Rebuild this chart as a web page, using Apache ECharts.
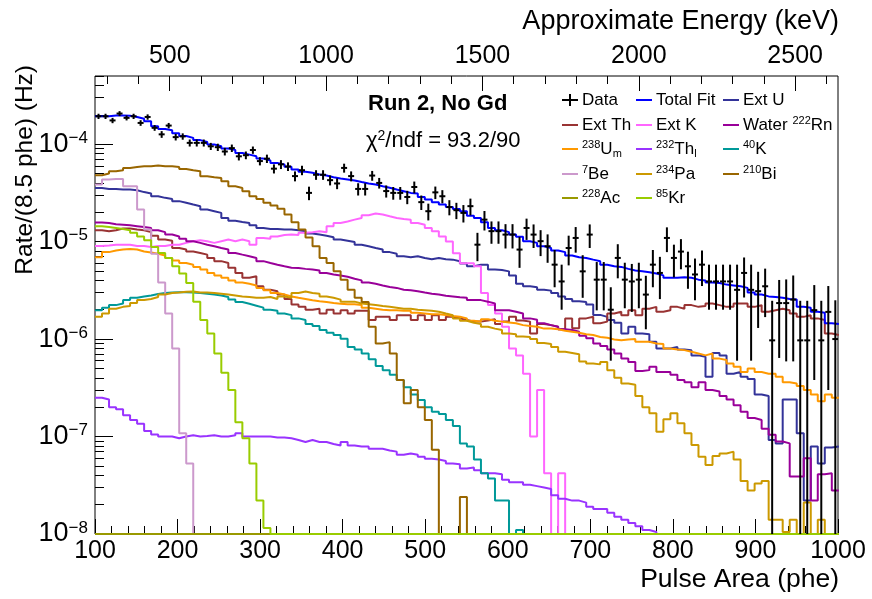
<!DOCTYPE html>
<html><head><meta charset="utf-8">
<script src="https://cdn.jsdelivr.net/npm/echarts@6/dist/echarts.min.js"></script>
<style>html,body{margin:0;padding:0;background:#fff}#c{width:872px;height:599px}</style>
</head><body><div id="c"></div>
<script>
// ---- binning / axes ----
const PHE_MIN = 100, PHE_MAX = 1000, BIN_WIDTH = 8.5, N_BINS = 106;
const Y_MIN = 1e-8, Y_MAX = 5e-4;
const E_MIN = 261, E_MAX = 2637;          // approximate energy (keV) at 100 and 1000 phe
const UNIT = 1e-6;                          // all rate arrays below are in µHz per 8.5 phe bin
const yMajorTicks = [1e-8, 1e-7, 1e-6, 1e-5, 1e-4];
const energyLabels = [500, 1000, 1500, 2000, 2500];
const energyMinorTicks = [300,400,600,700,800,900,1100,1200,1300,1400,1600,1700,1800,1900,2100,2200,2300,2400,2600];

// ---- data (µHz) ----
const dataRate = [193,193,175,206,186,193,165,190,147,126,
 155,118,120,103,103,103,95,93,84,91,
 75,77,87,67,71,56,62,59,47,54,
 31.6,48.5,48.5,42.7,39.5,57,47,34.7,34.7,47.6,
 40,33,31.6,31.6,28.7,36.3,25.4,20.5,32,29.2,
 22.6,21,19.7,23.1,9.3,16.8,12.8,12.8,11.8,11.8,
 8.28,13.8,11.8,10.1,8.96,5.8,3.9,8.6,10.9,4.95,
 11.8,4.07,4.07,2.0,6.8,4.07,3.9,4.07,2.86,5.8,
 4.77,10.9,6.8,7.9,5.58,4.6,5.8,3.9,3.9,3.9,
 3.9,3.2,4.77,3.2,3.1,3.48,0.97,2.34,2.34,2.54,
 0.97,0.97,1.98,0.97,1.9,1.0];
const dataErr = [12,12,11,12,11,12,11,12,10,10,
 10,9,9,8.5,8.5,8.5,8,8,7.5,8,
 7,7,7.5,6.5,7,6,6.5,6,5.5,6,
 5,5.5,5.5,5,5,6,5.5,5,5,5.5,
 5,4.7,4.7,4.7,4.5,5,4.3,4,4.7,4.5,
 4,4,4,4.5,3,3.8,3.3,3.3,3.3,3.3,
 2.9,3.4,3.2,3,2.9,2.4,1.9,2.9,3.2,2.3,
 3.2,2.1,2.1,1.4,2.6,2,2,2,1.6,2.4,
 2.2,3.1,2.5,2.7,2.3,2.1,2.3,1.9,1.9,1.9,
 1.9,2.6,2.1,2.6,1.8,1.8,1.5,1.7,1.75,1.95,
 1.5,1.5,1.6,1.5,1.6,1.5];
const totalFit = [193,193,197,197,196,190,182,172,153,143,
 139,129,121,116,110,105,99,95,90,87,
 81,78,75,71,68,64,62,58.5,55,52,
 50.8,48.8,47.6,45.8,44.4,43.4,42.4,40.8,39.5,38.6,
 37,35.6,34.2,32.9,31.6,31.1,28.7,27,25.4,24,
 22.7,21.6,20.5,18.4,17.5,15.8,13.8,13.1,12.5,11.8,
 11.2,10.1,9.7,8.96,8.6,8.1,7.8,7.2,6.9,6.8,
 6.53,6.3,5.8,5.58,5.5,5.25,5.05,4.95,4.85,4.7,
 4.5,4.25,4.25,4.3,4.25,4.07,4.0,3.8,3.76,3.62,
 3.55,3.48,3.35,3.0,2.86,2.74,2.7,2.65,2.58,2.54,
 2.14,2.1,1.91,1.86,1.45,1.43];
const extU = [35.5,34.7,34.7,34.2,34.2,33.7,32.2,31.2,29.2,28.1,
 27.4,26,25,24,23.1,21.3,20.5,19.7,17.5,16.4,
 15.9,15.5,14.7,13.8,13.5,13.5,13.3,13.3,13.1,12.8,
 12.1,11.8,11.5,11.1,10.5,10.2,9.9,9.3,8.96,8.6,
 8.28,7.8,7.5,7.07,6.9,7.07,6.8,6.6,6.8,6.6,
 6.53,6.3,5.95,5.58,5.8,5.8,5.16,5.1,4.95,4.5,
 3.7,3.48,3.4,3.21,3.14,2.97,2.74,2.58,2.44,2.4,
 2.26,1.77,1.69,1.57,1.47,1.14,1.34,1.14,1.12,0.94,
 0.80,0.80,0.83,0.78,0.77,0.68,0.66,0.41,0.72,0.68,
 0.44,0.46,0.41,0.39,0.27,0.26,0.092,0.085,0.24,0.24,
 0.108,0.022,0.079,0.053,0.077,0.079];
const extTh = [13.1,12.8,13.1,13.6,13.6,13.3,13.1,12.5,11.5,10.5,
 10.2,8.6,8.3,7.9,7.65,7.35,6.8,6.3,6.04,5.4,
 4.77,4.25,4.41,3.48,3.21,3.1,2.86,2.58,2.26,2.14,
 2.0,2.05,1.83,2.0,1.83,1.98,1.83,1.95,1.95,1.57,
 1.69,1.69,1.57,1.76,1.76,1.57,1.76,1.57,1.76,1.57,
 1.69,1.63,1.57,1.51,1.51,1.55,1.6,1.43,1.51,1.69,
 1.55,1.51,1.14,1.43,1.39,1.34,1.26,1.63,1.29,1.63,
 1.69,1.45,1.51,1.83,1.91,1.76,1.98,1.76,2.05,2.14,
 1.91,1.98,2.14,2.05,2.23,2.14,2.18,2.32,2.23,2.14,
 2.14,2.32,2.32,2.14,2.23,1.91,1.98,2.05,1.98,1.83,
 1.69,1.76,1.63,1.57,1.14,1.1];
const extK = [9.0,9.1,9.3,9.3,9.3,9.0,9.0,8.8,9.0,9.0,
 9.3,9.3,9.7,10.1,10.3,10.1,9.7,10.1,10.5,10.1,
 10.5,10.1,9.3,10.9,10.7,11.3,11.7,11.8,11.7,12.3,
 12.5,12.8,12.5,14.4,15.5,16.1,16.8,17.5,18.6,19.4,
 19.0,18.2,17.5,17.1,16.8,15.5,14.9,13.8,12.8,11.3,
 10.0,7.6,6.0,6.0,5.6,2.97,2.23,1.83,1.34,0.80,
 0.68,0.44,0.10,0.30,0.042,0,0.042,0,0,0,
 0,0,0,0,0,0,0,0,0,0,
 0,0,0,0,0,0,0,0,0,0,
 0,0,0,0,0,0,0,0,0,0,
 0,0,0,0,0,0];
const waterRn = [15.7,15.5,15.1,14.9,14.7,14.4,14.1,13.8,13.1,12.5,
 11.8,11.3,10.7,10.1,9.7,9.3,8.96,8.6,8.28,7.65,
 7.35,7.07,6.8,6.3,6.04,5.8,5.58,5.4,5.37,5.25,
 5.16,5.05,4.77,4.6,4.5,4.35,4.15,4.0,3.8,3.7,
 3.55,3.42,3.35,3.21,3.16,3.1,3.0,2.92,2.86,2.78,
 2.74,2.68,2.65,2.51,2.51,2.42,2.32,1.98,1.98,1.91,
 1.83,1.63,1.58,1.45,1.39,1.34,1.26,1.24,1.19,1.08,
 1.02,0.90,0.85,0.78,0.71,0.63,0.58,0.47,0.48,0.52,
 0.46,0.46,0.43,0.38,0.36,0.32,0.36,0.30,0.29,0.26,
 0.24,0.21,0.18,0.155,0.148,0.12,0.104,0.089,0.085,0.039,
 0.039,0.06,0.022,0.041,0.042,0.028];
const u238m = [6.9,7.8,8.1,8.28,8.4,8.28,7.9,7.75,7.5,7.2,
 6.8,6.4,6.04,5.8,5.5,5.16,4.77,4.5,4.25,4.0,
 3.8,3.7,3.55,3.35,3.16,2.97,2.86,2.74,2.65,2.58,
 2.5,2.44,2.4,2.34,2.3,2.28,2.28,2.23,2.1,2.05,
 2.0,1.98,1.98,1.95,1.95,1.86,1.83,1.8,1.8,1.76,
 1.72,1.69,1.63,1.54,1.51,1.6,1.54,1.51,1.48,1.45,
 1.39,1.36,1.34,1.28,1.28,1.26,1.22,1.19,1.16,1.12,
 1.1,1.05,1.03,0.99,0.97,0.99,1.0,0.94,0.94,0.9,
 0.89,0.8,0.78,0.77,0.74,0.71,0.68,0.71,0.63,0.61,
 0.56,0.52,0.46,0.5,0.46,0.44,0.44,0.41,0.36,0.35,
 0.33,0.3,0.27,0.23,0.27,0.25];
const th232l = [0.25,0.24,0.2,0.19,0.165,0.148,0.135,0.114,0.105,0.1,
 0.1,0.096,0.1,0.103,0.1,0.101,0.103,0.1,0.1,0.103,
 0.108,0.1,0.1,0.1,0.1,0.098,0.098,0.096,0.092,0.088,
 0.092,0.088,0.088,0.084,0.081,0.088,0.081,0.079,0.079,0.075,
 0.075,0.072,0.07,0.065,0.067,0.065,0.062,0.059,0.058,0.056,
 0.053,0.052,0.047,0.048,0.045,0.042,0.042,0.041,0.036,0.034,
 0.034,0.032,0.031,0.03,0.029,0.025,0.023,0.022,0.022,0.021,
 0.019,0.018,0.018,0.0165,0.015,0.014,0.013,0.012,0.011,0.0105,
 0,0,0,0,0,0,0,0,0,0,
 0,0,0,0,0,0,0,0,0,0,
 0,0,0,0,0,0];
const k40 = [1.98,2.1,2.23,2.32,2.51,2.65,2.74,2.8,2.9,2.97,
 3.0,3.02,3.02,3.0,2.97,2.92,2.86,2.8,2.7,2.54,
 2.4,2.3,2.2,2.1,2.0,1.95,1.83,1.76,1.63,1.57,
 1.43,1.36,1.24,1.16,1.1,1.01,0.83,0.78,0.71,0.62,
 0.53,0.48,0.43,0.38,0.32,0.27,0.237,0.2,0.18,0.17,
 0.148,0.128,0.085,0.079,0.058,0.042,0.037,0.022,0.022,0,
 0.011,0,0,0,0,0,0,0,0,0,
 0,0,0,0,0,0,0,0,0,0,
 0,0,0,0,0,0,0,0,0,0,
 0,0,0,0,0,0,0,0,0,0,
 0,0,0,0,0,0];
const be7 = [38.5,43.4,44,44,37,37,21.3,13.3,7.5,3.8,
 1.83,0.8,0.108,0.053,0,0,0,0,0,0,
 0,0,0,0,0,0,0,0,0,0,
 0,0,0,0,0,0,0,0,0,0,
 0,0,0,0,0,0,0,0,0,0,
 0,0,0,0,0,0,0,0,0,0,
 0,0,0,0,0,0,0,0,0,0,
 0,0,0,0,0,0,0,0,0,0,
 0,0,0,0,0,0,0,0,0,0,
 0,0,0,0,0,0,0,0,0,0,
 0,0,0,0,0,0];
const pa234 = [1.69,1.83,2.05,2.14,2.18,2.35,2.51,2.58,2.7,2.86,
 2.97,3.0,3.05,3.08,3.0,3.0,2.97,2.92,2.86,2.8,
 2.74,2.7,2.65,2.65,2.7,2.58,2.74,2.65,2.97,3.08,
 2.97,2.92,2.74,2.65,2.54,2.42,2.42,2.32,2.28,2.23,
 2.18,2.14,2.1,2.05,2.05,2.0,1.98,1.95,1.91,1.83,
 1.76,1.63,1.54,1.47,1.43,1.34,1.28,1.24,1.14,1.12,
 1.06,1.05,1.0,0.91,0.89,0.83,0.74,0.72,0.70,0.59,
 0.56,0.55,0.58,0.48,0.40,0.35,0.34,0.26,0.2,0.173,
 0.112,0.15,0.173,0.137,0.108,0.082,0.062,0.051,0.063,0.067,
 0.07,0.058,0.035,0.028,0.033,0.035,0.014,0.014,0.0105,0.014,
 0,0.021,0,0.014,0,0];
const bi210 = [48,50,52.8,54,57,58.4,59.4,59.4,60.4,59.4,
 59.4,58.4,55.7,54,52.8,46.9,45.8,45,41.7,37,
 35.5,32.9,29.2,27.4,25,23.5,21.7,19,15.8,13.3,
 11,8.96,6.8,6.04,4.95,4.07,3.21,2.65,2.4,1.34,
 0.9,0.93,0.71,0.38,0.22,0.3,0.2,0.148,0.073,0,
 0,0,0.024,0,0,0,0,0,0,0,
 0,0,0,0,0,0,0,0,0,0,
 0,0,0,0,0,0,0,0,0,0,
 0,0,0,0,0,0,0,0,0,0,
 0,0,0,0,0,0,0,0,0,0,
 0,0,0,0,0,0];
const ac228 = [0,0,0,0,0,0,0,0,0,0,
 0,0,0,0,0,0,0,0,0,0,
 0,0,0,0,0,0,0,0,0,0,
 0,0,0,0,0,0,0,0,0,0,
 0,0,0,0,0,0,0,0,0,0,
 0,0,0,0,0,0,0,0,0,0,
 0,0,0,0,0,0,0,0,0,0,
 0,0,0,0,0,0,0,0,0,0,
 0,0,0,0,0,0,0,0,0,0,
 0,0,0,0,0,0,0,0,0,0,
 0,0,0,0,0,0];
const kr85 = [14.4,14.1,13.8,13.5,13.1,12.3,11.3,10.3,8.8,7.65,
 6.8,5.58,4.7,3.76,2.42,1.57,1.14,0.71,0.45,0.3,
 0.14,0.096,0.053,0.022,0.0115,0,0,0,0,0,
 0,0,0,0,0,0,0,0,0,0,
 0,0,0,0,0,0,0,0,0,0,
 0,0,0,0,0,0,0,0,0,0,
 0,0,0,0,0,0,0,0,0,0,
 0,0,0,0,0,0,0,0,0,0,
 0,0,0,0,0,0,0,0,0,0,
 0,0,0,0,0,0,0,0,0,0,
 0,0,0,0,0,0];

// ---- styling ----
const FONT = '"Liberation Sans", Arial, Helvetica, sans-serif';
const components = [
  {name:'Ext U', values:extU, color:'#333399', label:'{n|Ext U}'},
  {name:'Ext Th', values:extTh, color:'#993333', label:'{n|Ext Th}'},
  {name:'Ext K', values:extK, color:'#ff66ff', label:'{n|Ext K}'},
  {name:'Water 222Rn', values:waterRn, color:'#990099', label:'{n|Water }{s|222}{n|Rn}'},
  {name:'238Um', values:u238m, color:'#ff9900', label:'{s|238}{n|U}{u|m}'},
  {name:'232Thl', values:th232l, color:'#9933ff', label:'{s|232}{n|Th}{u|l}'},
  {name:'40K', values:k40, color:'#009999', label:'{s|40}{n|K}'},
  {name:'7Be', values:be7, color:'#cc99cc', label:'{s|7}{n|Be}'},
  {name:'234Pa', values:pa234, color:'#cc9900', label:'{s|234}{n|Pa}'},
  {name:'210Bi', values:bi210, color:'#996600', label:'{s|210}{n|Bi}'},
  {name:'228Ac', values:ac228, color:'#999900', label:'{s|228}{n|Ac}'},
  {name:'85Kr', values:kr85, color:'#99cc00', label:'{s|85}{n|Kr}'}
];

function binLeft(i){ return PHE_MIN + i * BIN_WIDTH; }
function stepData(vals){
  const pts = vals.map((v, i) => [binLeft(i), Math.max(v * UNIT, Y_MIN)]);
  pts.push([binLeft(vals.length), pts[pts.length - 1][1]]);
  return pts;
}
const series = components.map(c => ({
  type:'line', name:c.name, data:stepData(c.values), step:'end', symbol:'none', showSymbol:false,
  lineStyle:{color:c.color, width:2}, itemStyle:{color:c.color}, clip:true, silent:true, z:2
}));
series.push({type:'line', name:'Total Fit', data:stepData(totalFit), step:'end', symbol:'none', showSymbol:false,
  lineStyle:{color:'#0000ff', width:2}, itemStyle:{color:'#0000ff'}, clip:true, silent:true, z:3});
series.push({
  type:'custom', name:'Data', clip:true, silent:true, z:4,
  data: dataRate.map((v, i) => {
    const y = v * UNIT, e = dataErr[i] * UNIT;
    return [binLeft(i) + BIN_WIDTH / 2, y, Math.max(y - e, Y_MIN), y + e];
  }),
  encode:{x:0, y:1},
  renderItem(params, api){
    const x = api.value(0);
    const c = api.coord([x, api.value(1)]);
    const lo = api.coord([x, api.value(2)]);
    const hi = api.coord([x, api.value(3)]);
    const st = {stroke:'#000', lineWidth:2};
    return {type:'group', children:[
      {type:'line', shape:{x1:c[0], y1:lo[1], x2:c[0], y2:hi[1]}, style:st},
      {type:'line', shape:{x1:c[0]-3, y1:c[1], x2:c[0]+3, y2:c[1]}, style:st}
    ]};
  }
});

const yMinorTicks = [];
for (let d = -8; d <= -4; d++) for (let m = 2; m <= 9; m++) { const v = m * Math.pow(10, d); if (v <= Y_MAX) yMinorTicks.push(+v.toPrecision(3)); }

const tickStyle = {color:'#000', width:1};
const richNorm = {n:{fontSize:17, fontFamily:FONT, color:'#000'},
                  s:{fontSize:11, fontFamily:FONT, color:'#000', padding:[0,0,8,0]},
                  u:{fontSize:11, fontFamily:FONT, color:'#000', padding:[10,0,0,0]}};

// legend (graphic): Data, Total Fit, then components, 3 columns
const legendItems = [{label:'{n|Data}', color:'#000', marker:true},
                     {label:'{n|Total Fit}', color:'#0000ff'}].concat(components.map(c => ({label:c.label, color:c.color})));
const legColLine = [562, 636, 723], legColText = [582, 656, 743], legRowY = [100, 125, 149, 174, 198];
const graphics = [];
legendItems.forEach((it, k) => {
  const col = k % 3, row = Math.floor(k / 3);
  const y = legRowY[row], x0 = legColLine[col];
  if (it.marker) {
    graphics.push({type:'line', shape:{x1:x0, y1:y, x2:x0+16, y2:y}, style:{stroke:'#000', lineWidth:2}});
    graphics.push({type:'line', shape:{x1:x0+8, y1:y-6, x2:x0+8, y2:y+6}, style:{stroke:'#000', lineWidth:2}});
  } else {
    graphics.push({type:'line', shape:{x1:x0, y1:y, x2:x0+16, y2:y}, style:{stroke:it.color, lineWidth:2}});
  }
  graphics.push({type:'text', x:legColText[col], y:y, style:{text:it.label, rich:richNorm, align:'left', verticalAlign:'middle'}});
});
graphics.push({type:'text', x:368, y:104, style:{text:'Run 2, No Gd', fontSize:22, fontWeight:'bold', fontFamily:FONT, fill:'#000', align:'left', verticalAlign:'middle'}});
graphics.push({type:'text', x:366, y:141, style:{text:'{c|χ}{t|2}{c|/ndf = 93.2/90}', align:'left', verticalAlign:'middle',
  rich:{c:{fontSize:22, fontFamily:FONT, color:'#000'}, t:{fontSize:14, fontFamily:FONT, color:'#000', padding:[0,0,10,0]}}}});
graphics.push({type:'text', x:839, y:22, style:{text:'Approximate Energy (keV)', fontSize:27, fontFamily:FONT, fill:'#000', align:'right', verticalAlign:'middle'}});
graphics.push({type:'text', x:839, y:580, style:{text:'Pulse Area (phe)', fontSize:26.5, fontFamily:FONT, fill:'#000', align:'right', verticalAlign:'middle'}});
graphics.push({type:'text', x:25, y:65, rotation:Math.PI/2, style:{text:'Rate/(8.5 phe) (Hz)', fontSize:24.5, fontFamily:FONT, fill:'#000', align:'right', verticalAlign:'middle'}});

const plainNum = (v) => String(Math.round(v));
const option = {
  animation:false,
  backgroundColor:'#fff',
  grid:{left:95, top:76, width:743, height:458, show:true, borderColor:'#000', borderWidth:1, backgroundColor:'transparent', containLabel:false, outerBoundsMode:'none'},
  xAxis:[
    {type:'value', min:PHE_MIN, max:PHE_MAX, interval:100, position:'bottom',
     axisLine:{show:false}, splitLine:{show:false},
     axisTick:{inside:true, length:15, lineStyle:tickStyle},
     minorTick:{show:true, splitNumber:5, length:8, lineStyle:tickStyle}, minorSplitLine:{show:false},
     axisLabel:{color:'#000', fontSize:25, fontFamily:FONT, margin:5, showMinLabel:true, showMaxLabel:true, formatter:plainNum}},
    {type:'value', min:E_MIN, max:E_MAX, position:'top',
     axisLine:{show:false}, splitLine:{show:false},
     axisTick:{inside:true, length:15, lineStyle:tickStyle, customValues:energyLabels},
     axisLabel:{color:'#000', fontSize:25, fontFamily:FONT, margin:7, customValues:energyLabels, formatter:plainNum}},
    {type:'value', min:E_MIN, max:E_MAX, position:'top',
     axisLine:{show:false}, splitLine:{show:false},
     axisTick:{inside:true, length:8, lineStyle:tickStyle, customValues:energyMinorTicks},
     axisLabel:{show:false}}
  ],
  yAxis:[
    {type:'log', logBase:10, min:Y_MIN, max:Y_MAX, position:'left',
     axisLine:{show:false}, splitLine:{show:false},
     axisTick:{inside:true, length:18, lineStyle:tickStyle, customValues:yMajorTicks},
     axisLabel:{customValues:yMajorTicks, margin:7,
       formatter:(v) => { const e = Math.round(Math.log10(v)); return '{b|10}{s|' + (e < 0 ? '\u2212' : '') + Math.abs(e) + '}'; },
       rich:{b:{fontSize:27, fontFamily:FONT, color:'#000'}, s:{fontSize:17, fontFamily:FONT, color:'#000', padding:[0,0,12,0]}}}},
    {type:'log', logBase:10, min:Y_MIN, max:Y_MAX, position:'left',
     axisLine:{show:false}, splitLine:{show:false},
     axisTick:{inside:true, length:9, lineStyle:tickStyle, customValues:yMinorTicks},
     axisLabel:{show:false}}
  ],
  graphic: graphics,
  series: series
};
const chart = echarts.init(document.getElementById('c'));
chart.setOption(option);
</script></body></html>
